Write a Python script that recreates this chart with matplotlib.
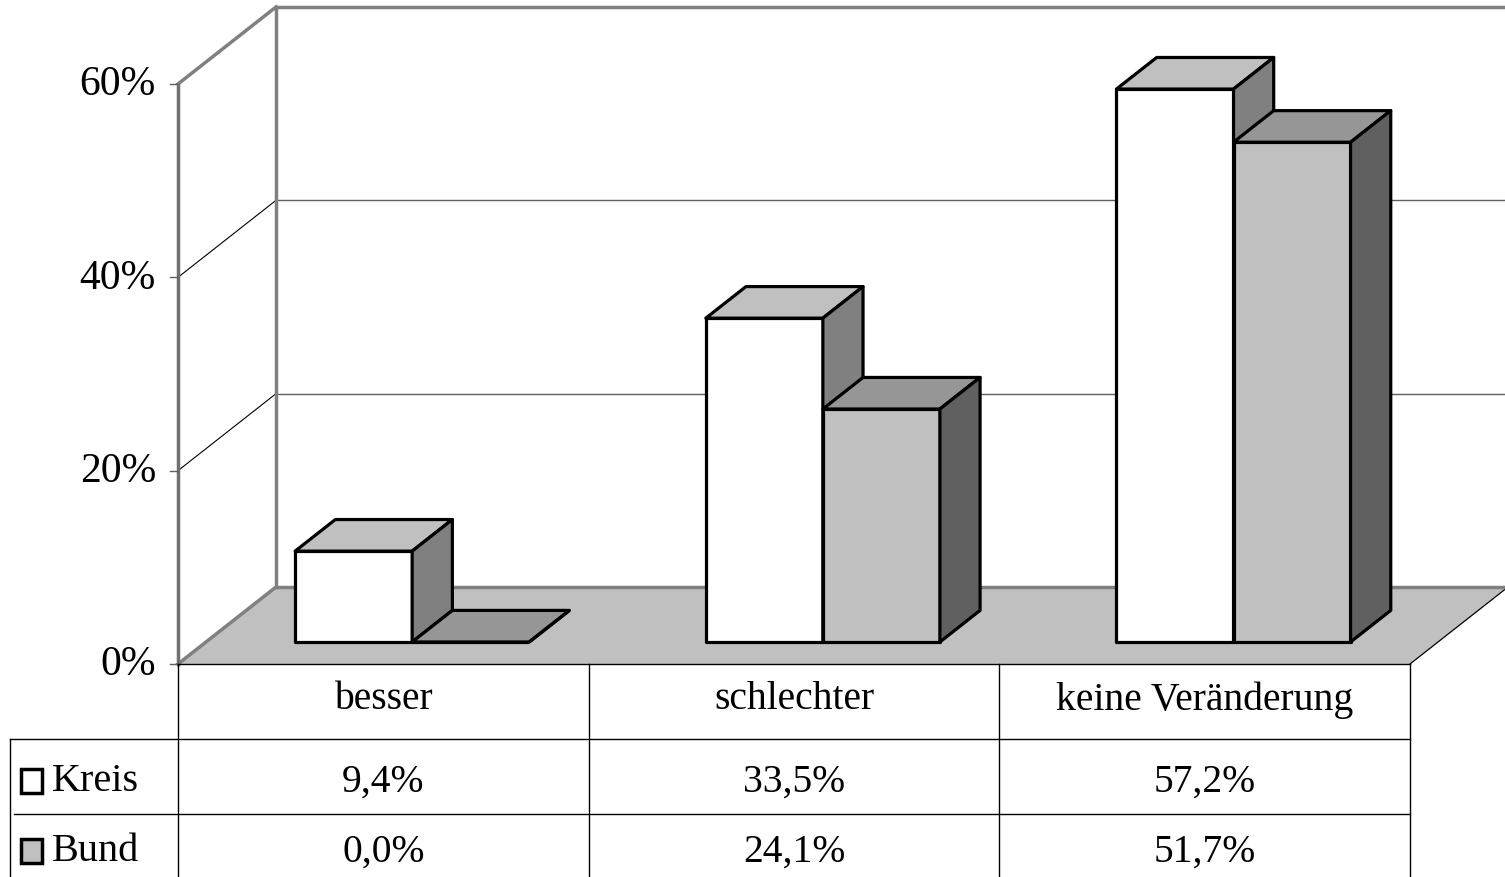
import matplotlib
matplotlib.use('Agg')
import matplotlib.pyplot as plt
from matplotlib.patches import Polygon, Rectangle

categories = ['besser', 'schlechter', 'keine Veränderung']
series = ['Kreis', 'Bund']
kreis = [9.4, 33.5, 57.2]
bund = [0.0, 24.1, 51.7]
yticks = [0, 20, 40, 60]
ytick_labels = ['0%', '20%', '40%', '60%']

# front, top, side colour of the boxes
colors = {'Kreis': ('#ffffff', '#c0c0c0', '#808080'),
          'Bund': ('#c0c0c0', '#969696', '#606060')}

W, H = 1505, 878
X0, XW = 178, 410.67   # pixel x of first category, pixels per category
Y0, YS = 665, 9.6667   # pixel y of 0 %, pixels per percent


def ux(px):
    return (px - X0) / XW


def uy(py):
    return (Y0 - py) / YS


DX, DY = ux(276), uy(588)          # shift from front to back wall
F0, FD = 0.286, 0.41               # bar front depth, bar depth
GAP, BW = 0.217, 0.285             # gap before first bar, bar width
XMAX = ux(W)
YMAX = yticks[-1]

plt.rcParams['font.family'] = ['Liberation Serif', 'DejaVu Serif']
fig = plt.figure(figsize=(W / 100, H / 100), dpi=100)
ax = fig.add_axes([0, 0, 1, 1])
ax.set_xlim(ux(0), ux(W))
ax.set_ylim(uy(H), uy(0))
ax.axis('off')

wall = '#808080'

# floor
ax.add_patch(Polygon([(0, 0), (3, 0), (3 + DX, DY), (DX, DY)],
                     fc='#c0c0c0', ec='none', zorder=1))
ax.plot([3, 3 + DX], [0, DY], color='k', lw=0.9, zorder=2)
ax.plot([0, DX], [0, DY], color=wall, lw=2.5, zorder=2)
ax.plot([DX, XMAX], [DY, DY], color=wall, lw=2.5, zorder=2)

# grid on back wall and side wall
for v in yticks[1:-1]:
    ax.plot([DX, XMAX], [v + DY, v + DY], color='#606060', lw=1, zorder=1)
    ax.plot([0, DX], [v, v + DY], color='k', lw=0.8, zorder=1)

# wall edges
ax.plot([0, 0], [0, YMAX], color='#707070', lw=2.5, zorder=2)
ax.plot([0, DX], [YMAX, YMAX + DY], color=wall, lw=2.5, zorder=2)
ax.plot([DX, DX], [DY, YMAX + DY], color=wall, lw=2.5, zorder=2)
ax.plot([DX, XMAX], [YMAX + DY, YMAX + DY], color=wall, lw=2.5, zorder=2)

# y ticks
for v, lab in zip(yticks, ytick_labels):
    ax.plot([ux(170), 0], [v, v], color='#606060', lw=1, zorder=2)
    ax.text(ux(156), v, lab, ha='right', va='center', fontsize=30)

# boxes
for i in range(len(categories)):
    for j, (name, vals) in enumerate(zip(series, [kreis, bund])):
        front, top, side = colors[name]
        x = i + GAP + j * BW + F0 * DX
        y = F0 * DY
        h = vals[i]
        dx, dy = FD * DX, FD * DY
        kw = dict(ec='k', lw=2.3, joinstyle='round', zorder=3)
        ax.add_patch(Polygon([(x, y), (x + BW, y), (x + BW, y + h), (x, y + h)],
                             fc=front, **kw))
        ax.add_patch(Polygon([(x, y + h), (x + BW, y + h),
                              (x + BW + dx, y + h + dy), (x + dx, y + h + dy)],
                             fc=top, **kw))
        ax.add_patch(Polygon([(x + BW, y), (x + BW + dx, y + dy),
                              (x + BW + dx, y + h + dy), (x + BW, y + h)],
                             fc=side, **kw))

# data table
r1, r2 = uy(740), uy(815)
ybot = uy(H)
tl = dict(color='k', lw=1, zorder=2)
ax.plot([0, 3], [0, 0], **tl)
for k in range(4):
    ax.plot([k, k], [0, ybot], **tl)
ax.plot([ux(10), 3], [r1, r1], **tl)
ax.plot([ux(14), 3], [r2, r2], **tl)
ax.plot([ux(10), ux(10)], [r1, ybot], **tl)

for i, cat in enumerate(categories):
    ax.text(i + 0.5, uy(700), cat, ha='center', va='center', fontsize=28.5)

rows_y = [uy(782), uy(852)]
for name, vals, ry in zip(series, [kreis, bund], rows_y):
    for i, v in enumerate(vals):
        ax.text(i + 0.5, ry, ('%.1f%%' % v).replace('.', ','),
                ha='center', va='center', fontsize=28.5)
    ax.add_patch(Rectangle((ux(21), ry - 12 / YS), ux(42) - ux(21), 24 / YS,
                           fc=colors[name][0], ec='k', lw=2.5, zorder=3))
    ax.text(ux(52), ry, name, ha='left', va='center', fontsize=29)

fig.savefig('out.png', dpi=100)
